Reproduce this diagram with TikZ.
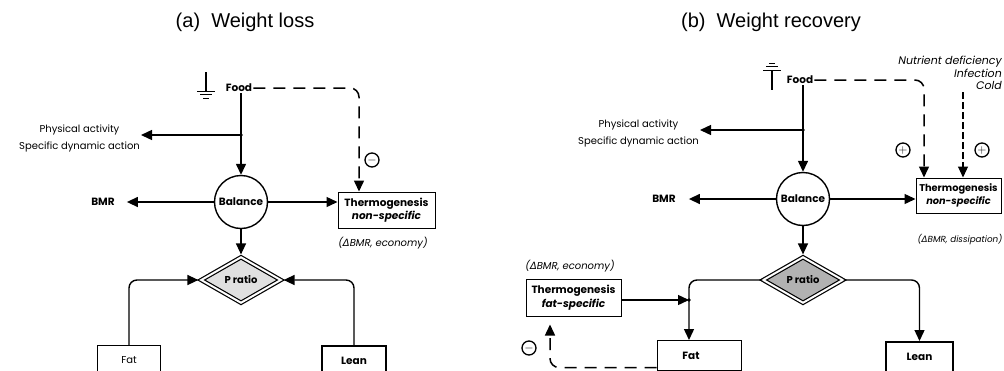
\documentclass[tikz,border=0pt]{standalone}
\usepackage{fontspec}
\setmainfont{Poppins}
\newfontfamily\titlefont{Liberation Sans}
\newfontfamily\djfont{DejaVu Sans}
\usetikzlibrary{arrows.meta,shapes.geometric}
\newcommand{\dlt}{{\djfont\itshape Δ}}
\begin{document}
\begin{tikzpicture}[x=1pt,y=-1pt,
 ln/.style={line width=1.4pt},
 arr/.style={ln,-{Triangle[length=11pt,width=10pt]}},
 darr/.style={arr,line width=1.5pt,dash pattern=on 12pt off 8pt},
 box/.style={draw,line width=1pt,fill=white,align=center,inner sep=1pt},
 lbl/.style={inner sep=1pt,font=\fontsize{10}{17}\selectfont},
 ital/.style={inner sep=1pt,font=\itshape\fontsize{10}{13}\selectfont},
 bld/.style={inner sep=1pt,font=\bfseries\fontsize{10.5}{13.5}\selectfont},
 sign/.style={circle,draw,line width=1.3pt,minimum size=14pt,inner sep=0pt,font=\bfseries\fontsize{12}{12}\selectfont},
 ratio/.style={diamond,draw,double,double distance=2pt,line width=1.2pt,minimum width=80pt,minimum height=46pt,inner sep=0pt,aspect=1.7,font=\bfseries\fontsize{10}{11}\selectfont},
 bal/.style={circle,draw,line width=1.4pt,fill=white,minimum size=53pt,inner sep=0pt,font=\bfseries\fontsize{10.5}{11}\selectfont},
 ttl/.style={inner sep=0pt,font=\titlefont\fontsize{20}{22}\selectfont}]
\useasboundingbox (0,0) rectangle (1004,370);
% ---------------- (a) Weight loss ----------------
\node[ttl] (ta) at (245,22) {(a)\ \ Weight loss};
\draw[ln] (206,72) -- (206,91);
\draw[line width=1pt] (197,91) -- (215,91) (200,94.5) -- (212,94.5) (203,98) -- (209,98);
\node[bld] (foodA) at (239,88) {Food};
\coordinate (jA) at (241,135);
\node[lbl,align=center,anchor=east] (physA) at (141,138) {Physical activity\\Specific dynamic action};
\node[bal] (balA) at (241,202) {Balance};
\draw[arr] (jA |- foodA.south) -- (balA.north);
\draw[arr] (jA) -- (physA.east |- jA);
\fill (jA) circle (1.8pt);
\node[bld] (bmrA) at (103,202) {BMR};
\draw[arr,shorten >=11pt] (balA) -- (bmrA);
\node[box,bld,minimum width=97pt,minimum height=36pt] (thermA) at (386.5,210) {Thermogenesis\\\textit{non-specific}};
\draw[arr] (balA.east) -- (balA.east -| thermA.west);
\node[ital] (ecoA) at (383,243) {(\dlt BMR, economy)};
\coordinate (dA) at (359,0);
\draw[darr,rounded corners=9pt] (foodA.east) -| (dA |- thermA.north);
\node[sign] (mA) at (372,160) {$-$};
\node[ratio,fill=black!12] (rA) at (241,280) {P ratio};
\draw[arr,shorten >=2pt] (balA) -- (rA);
\node[box,inner sep=1pt,font=\fontsize{10}{12}\selectfont,minimum width=63pt,minimum height=30pt,anchor=north] (fatA) at (129,345) {Fat};
\node[box,bld,line width=1.7pt,minimum width=64pt,minimum height=30pt,anchor=north] (leanA) at (354,345) {Lean};
\draw[arr,rounded corners=8pt,shorten >=2pt] (fatA.north) |- (rA.west);
\draw[arr,rounded corners=8pt,shorten >=2pt] (leanA.north) |- (rA.east);
% ---------------- (b) Weight recovery ----------------
\node[ttl] (tb) at (771,22) {(b)\ \ Weight recovery};
\draw[ln] (772,70) -- (772,90);
\draw[line width=1pt] (763,70) -- (781,70) (766,66.5) -- (778,66.5) (769,63) -- (775,63);
\node[bld] (foodB) at (800,80) {Food};
\coordinate (jB) at (803,130);
\node[lbl,align=center,anchor=east] (physB) at (700,133) {Physical activity\\Specific dynamic action};
\node[bal] (balB) at (803,199) {Balance};
\draw[arr] (jB |- foodB.south) -- (balB.north);
\draw[arr] (jB) -- (physB.east |- jB);
\fill (jB) circle (1.8pt);
\node[bld] (bmrB) at (664,199) {BMR};
\draw[arr,shorten >=12pt] (balB) -- (bmrB);
\node[box,bld,font=\bfseries\fontsize{9.8}{13.5}\selectfont,minimum width=85pt,minimum height=35pt] (thermB) at (958.5,195.5) {Thermogenesis\\\textit{non-specific}};
\draw[arr] (balB.east) -- (balB.east -| thermB.west);
\node[ital,font=\itshape\fontsize{8.8}{12}\selectfont,anchor=east] (disB) at (1003.5,240) {(\dlt BMR, dissipation)};
\node[ital,font=\itshape\fontsize{11}{12.5}\selectfont,align=right,anchor=north east] (nutB) at (1003,55) {Nutrient deficiency\\Infection\\Cold};
\coordinate (d1) at (924,0);
\draw[darr,rounded corners=9pt] (foodB.east) -| (d1 |- thermB.north);
\coordinate (cB) at (963,92);
\draw[arr,line width=1.1pt,dash pattern=on 7pt off 3pt] (cB) -- (cB |- thermB.north);
\node[sign] (pB1) at (903,150) {$+$};
\node[sign] (pB2) at (982,150) {$+$};
\node[ratio,fill=black!30] (rB) at (803,280) {P ratio};
\draw[arr,shorten >=2pt] (balB) -- (rB);
\node[box,bld,minimum width=84pt,minimum height=30pt,anchor=north] (fatB) at (699,340) {Fat\hspace*{16pt}};
\coordinate (kB) at (689,300);
\draw[arr,rounded corners=8pt] (rB.west) -| (kB |- fatB.north);
\fill (kB) circle (1.8pt);
\node[box,bld,minimum width=95pt,minimum height=37pt] (fsB) at (573.5,297.5) {Thermogenesis\\\textit{fat-specific}};
\draw[arr] (fsB.east |- kB) -- (kB);
\node[ital] (ecoB) at (570,266) {(\dlt BMR, economy)};
\node[box,bld,line width=1.5pt,minimum width=67pt,minimum height=30pt,anchor=north] (leanB) at (919.5,341) {Lean};
\draw[arr,rounded corners=8pt] (rB.east) -| (leanB.north);
\coordinate (fdB) at (550,0);
\path (fdB |- fsB.south) ++(0,8) coordinate (fdT);
\draw[darr,rounded corners=9pt] ([yshift=-12pt]fatB.west) -| (fdT);
\node[sign] (mB) at (529,348) {$-$};
\end{tikzpicture}
\end{document}
